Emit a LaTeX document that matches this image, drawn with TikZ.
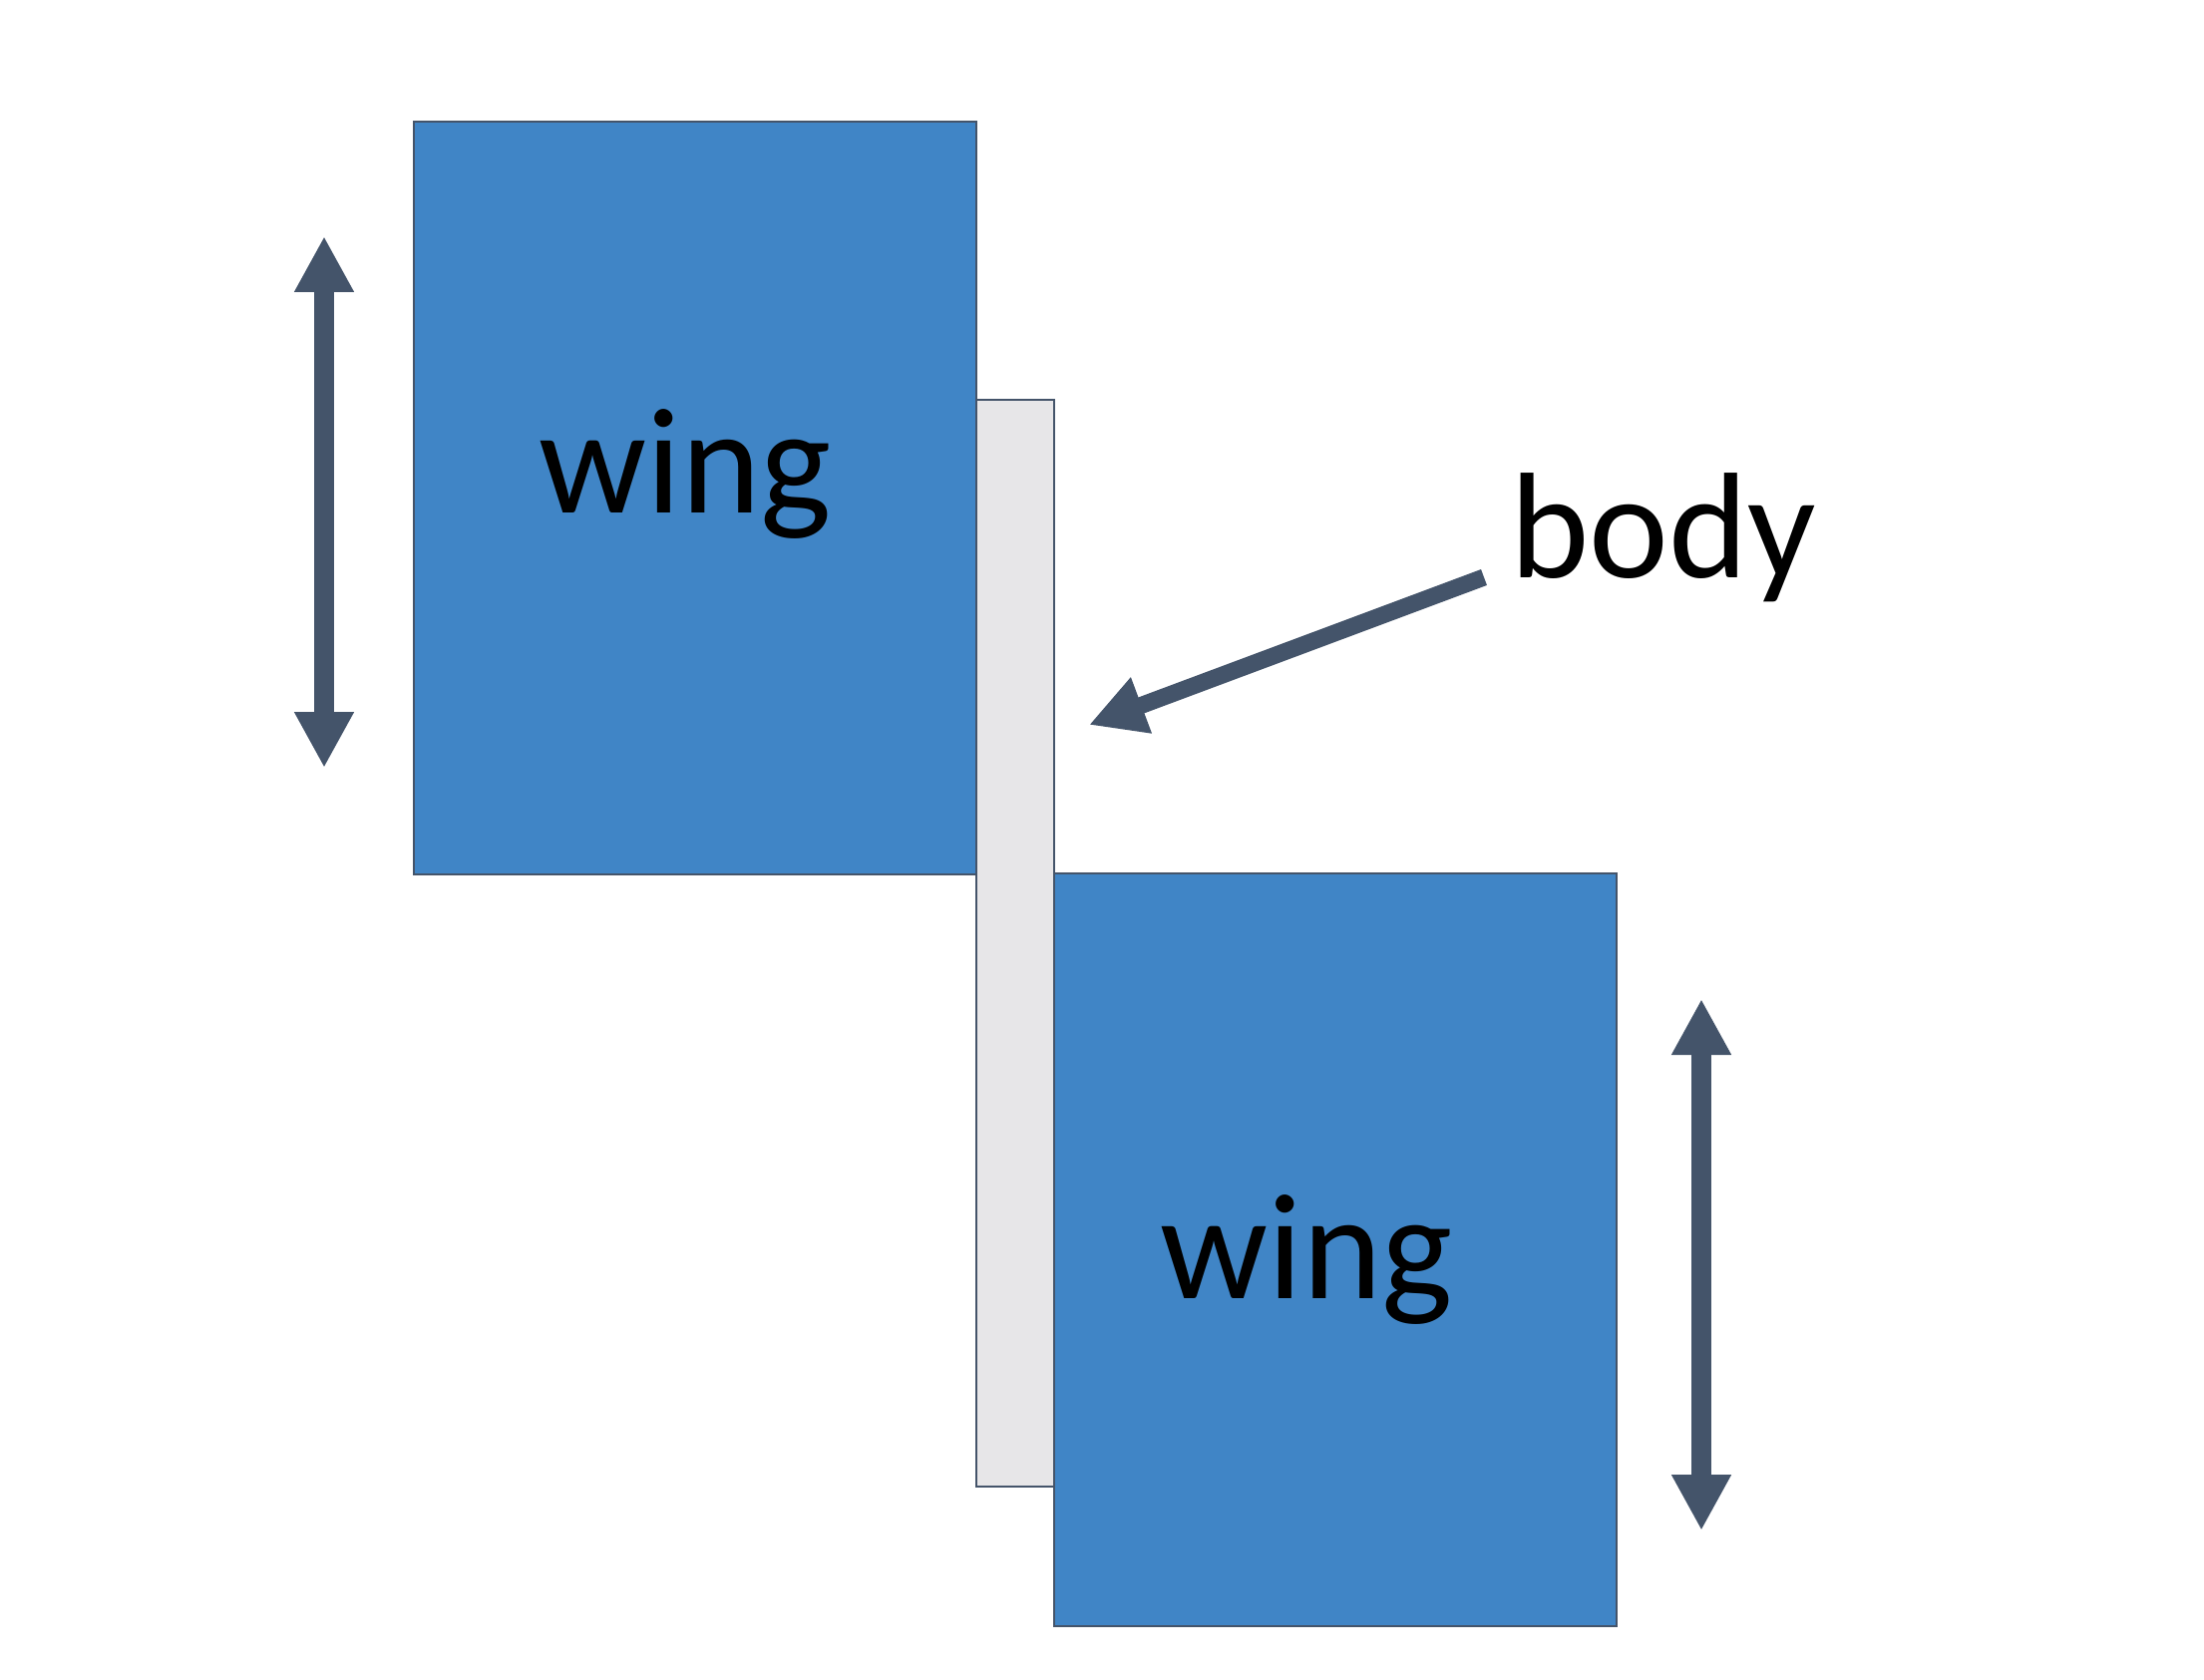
\documentclass[tikz,border=0pt]{standalone}
\usepackage{fontspec}
\setmainfont{Carlito}
\usepackage{xcolor}
\usetikzlibrary{arrows.meta}
\definecolor{wingblue}{HTML}{4085C6}
\definecolor{bodygray}{HTML}{E7E6E8}
\definecolor{slate}{HTML}{44546A}
\tikzstyle{part}=[draw=slate, line width=.6pt, rectangle, inner sep=0pt, anchor=north west]
\tikzstyle{wing}=[part, fill=wingblue, minimum width=56.4mm, minimum height=75.5mm]
\tikzstyle{bodybox}=[part, fill=bodygray, minimum width=7.8mm, minimum height=109mm]
\tikzstyle{l}=[draw=none, inner sep=0pt, anchor=base, font=\fontsize{43}{50}\selectfont]
\tikzstyle{move}=[slate, line width=2mm, >={Triangle[length=5.6mm, width=5.6mm]}]

\begin{document}
\begin{tikzpicture}[x=.1mm, y=-.1mm]
\useasboundingbox (0,0) rectangle (2210,1685);
\node[wing] (w1) at (414,121) {};
\node[wing] (w2) at (1056,875) {};
\node[bodybox] (b) at (978,400) {};
\foreach \n/\x/\y in {1/687/515, 2/1310/1302}
  \node[l] (t\n) at (\x, \y) {wing};
\node[l] (tb) at (1668,580) {body};
% flapping directions
\foreach \n/\x/\a/\b in {1/325/237/770, 2/1706/1002/1535} {
  \coordinate (u\n) at (\x,\a);
  \coordinate (d\n) at (\x,\b);
  \draw[move, <->] (u\n) -- (d\n);
}
\coordinate (bt) at (1488,579);
\coordinate (bh) at (1092,727);
\draw[move, line width=1.7mm, ->] (bt) -- (bh);
\end{tikzpicture}
\end{document}
